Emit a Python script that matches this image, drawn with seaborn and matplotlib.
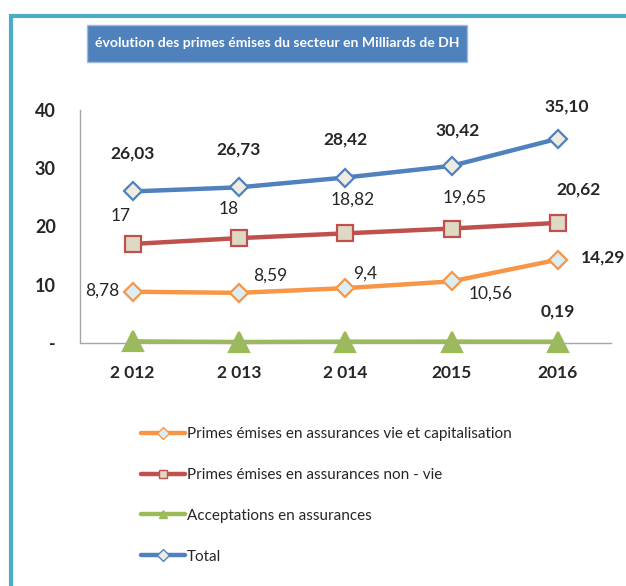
import numpy as np
import pandas as pd
import matplotlib.pyplot as plt
import seaborn as sns

# données (milliards de DH)
annees = ['2 012', '2 013', '2 014', '2015', '2016']
vie = [8.78, 8.59, 9.40, 10.56, 14.29]
non_vie = [17.00, 18.00, 18.82, 19.65, 20.62]
acceptations = [0.25, 0.14, 0.20, 0.21, 0.19]
total = [26.03, 26.73, 28.42, 30.42, 35.10]

noms = ['Primes émises en assurances vie et capitalisation',
        'Primes émises en assurances non - vie',
        'Acceptations en assurances',
        'Total']

lab_total = ['26,03', '26,73', '28,42', '30,42', '35,10']
lab_nv = ['17', '18', '18,82', '19,65', '20,62']
lab_vie = ['8,78', '8,59', '9,4', '10,56', '14,29']

sns.set_style('white')
plt.rcParams['font.family'] = ['Lato', 'DejaVu Sans']

fig = plt.figure(figsize=(6.26, 5.86), dpi=100)
ax = fig.add_axes([0.127, 0.415, 0.849, 0.397])

x = np.arange(len(annees))
df = pd.DataFrame({'x': x, 'vie': vie, 'non_vie': non_vie,
                   'acc': acceptations, 'total': total})

# styles : couleur, marqueur, remplissage, taille
styles = {
    'vie': ('#F79646', 'D', '#DBEEF4', 9),
    'non_vie': ('#C0504D', 's', '#DDD9C3', 11),
    'acc': ('#9BBB59', '^', '#9BBB59', 14),
    'total': ('#4F81BD', 'D', '#EEECE1', 9),
}
for col, nom in zip(['vie', 'non_vie', 'acc', 'total'], noms):
    c, m, fc, ms = styles[col]
    sns.lineplot(data=df, x='x', y=col, ax=ax, color=c, linewidth=3.2,
                 marker=m, markersize=ms, markerfacecolor=fc,
                 markeredgecolor=c, markeredgewidth=1.6, label=nom,
                 clip_on=False)

# étiquettes de données
off_total = [(0, 38), (0, 38), (0, 38), (6, 35), (9, 32)]
for i, v in enumerate(total):
    ax.annotate(lab_total[i], (x[i], v), xytext=off_total[i], textcoords='offset pixels',
                ha='center', va='center', fontsize=12.5, fontweight='bold')

off_nv = [(-12, 28), (-10, 29), (7, 34), (13, 31), (21, 33)]
for i, v in enumerate(non_vie):
    ax.annotate(lab_nv[i], (x[i], v), xytext=off_nv[i], textcoords='offset pixels',
                ha='center', va='center', fontsize=12.5,
                fontweight='bold' if i == 4 else 'normal')

off_vie = [(-30, 1), (31, 17), (20, 15), (39, -12), (45, 2)]
for i, v in enumerate(vie):
    ax.annotate(lab_vie[i], (x[i], v), xytext=off_vie[i], textcoords='offset pixels',
                ha='center', va='center', fontsize=12.5,
                fontweight='bold' if i == 4 else 'normal')

ax.annotate('0,19', (x[4], acceptations[4]), xytext=(0, 30), textcoords='offset pixels',
            ha='center', va='center', fontsize=12.5, fontweight='bold')

ax.set_xlim(-0.5, 4.5)
ax.set_ylim(0, 40)
ax.set_xticks(x)
ax.set_xticklabels(annees, fontsize=12.5, fontweight='bold')
ax.set_yticks([0, 10, 20, 30, 40])
ax.set_yticklabels(['-', '10', '20', '30', '40'], fontsize=13, fontweight='bold')
ax.tick_params(axis='x', length=0, pad=16)
ax.tick_params(axis='y', length=0, pad=17)
ax.set_xlabel('')
ax.set_ylabel('')
for s in ['top', 'right']:
    ax.spines[s].set_visible(False)
for s in ['left', 'bottom']:
    ax.spines[s].set_color('#A6A6A6')
    ax.spines[s].set_linewidth(1.0)

leg = ax.legend(loc='upper left', bbox_to_anchor=(141 / 626, 1 - 427 / 586),
                bbox_transform=fig.transFigure, frameon=False, fontsize=11,
                handlelength=2.9, handletextpad=0.1, labelspacing=1.76,
                borderaxespad=0, borderpad=0)
for h in leg.legend_handles:
    h.set_markersize(6)
    h.set_markeredgewidth(1.0)
    h.set_linewidth(3.2)

# titre dans un encadré bleu
fig.add_artist(plt.Rectangle((87 / 626, 1 - 62 / 586), 380 / 626, 37 / 586,
                             transform=fig.transFigure, facecolor='#4F81BD',
                             edgecolor='#9DB9DD', linewidth=1))
fig.text(277 / 626, 1 - 43 / 586, 'évolution des primes émises du secteur en Milliards de DH',
         ha='center', va='center', color='white', fontsize=10.1, fontweight='bold')

# cadre turquoise (haut et gauche)
fig.add_artist(plt.Line2D([10.5 / 626, 10.5 / 626], [0, 1 - 14 / 586],
                          transform=fig.transFigure, color='#4BACC6', linewidth=3,
                          solid_capstyle='butt'))
fig.add_artist(plt.Line2D([9 / 626, 1], [1 - 15.5 / 586, 1 - 15.5 / 586],
                          transform=fig.transFigure, color='#4BACC6', linewidth=3,
                          solid_capstyle='butt'))

fig.savefig('out.png', dpi=100)
